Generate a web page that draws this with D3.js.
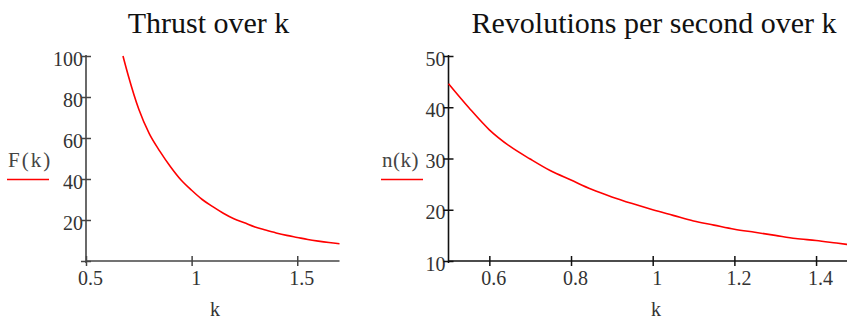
<!DOCTYPE html>
<html><head><meta charset="utf-8">
<script src="https://cdn.jsdelivr.net/npm/d3@7"></script>
<style>
body{margin:0;background:#fff;}
svg{display:block;}
text{font-family:"Liberation Serif","Times New Roman",serif;}
</style></head>
<body>
<svg id="c" width="847" height="320"></svg>
<script>
// ---- data ----
const thrustK = [0.675,0.70,0.75,0.80,0.85,0.90,0.95,1.00,1.05,1.10,1.15,1.20,1.25,1.30,1.35,1.40,1.45,1.50,1.55,1.60,1.65,1.70];
const thrustF = [100,90.5,74,62,53.5,46,39.5,34.5,30,26.5,23.3,20.6,18.6,16.6,15.1,13.7,12.5,11.5,10.5,9.7,9.0,8.4];
const revK = [0.50,0.55,0.60,0.65,0.70,0.75,0.80,0.85,0.90,0.95,1.00,1.05,1.10,1.15,1.20,1.25,1.30,1.35,1.40,1.45,1.50];
const revN = [44.6,39.9,35.6,32.4,29.9,27.6,25.8,24.0,22.5,21.2,20.0,18.9,17.8,17.0,16.2,15.6,15.0,14.4,14.0,13.5,13.0];
const leftXTicks = [0.5,1,1.5];
const leftYTicks = [0,20,40,60,80,100];
const rightXTicks = [0.6,0.8,1,1.2,1.4];
const rightYTicks = [10,20,30,40,50];
const titles = ["Thrust over k","Revolutions per second over k"];
const legendLabels = ["F(k)","n(k)"];
const xLabel = "k";

const svg = d3.select("#c");

function panel(cfg){
  const g = svg.append("g");
  const x = d3.scaleLinear().domain(cfg.xDomain).range(cfg.xRange);
  const y = d3.scaleLinear().domain(cfg.yDomain).range(cfg.yRange);
  const axisCol = cfg.axisCol;

  // title
  g.append("text").attr("x",cfg.titleX).attr("y",33).attr("text-anchor","middle")
    .attr("font-size",30).attr("fill","#111").text(cfg.title);

  // y axis
  const ya = g.append("g").attr("transform",`translate(${cfg.xRange[0]},0)`)
    .call(d3.axisLeft(y).tickValues(cfg.yTicks).tickSize(-5).tickPadding(3)
      .tickFormat(d=> cfg.hideYZero && d===0 ? "" : d3.format("")(d)));
  ya.select(".domain").attr("stroke",axisCol).attr("stroke-width",1.6)
    .attr("d",`M0,${y(cfg.yDomain[0])+2}V${cfg.yRange[1]-1}`);
  ya.selectAll(".tick line").attr("stroke",axisCol).attr("stroke-width",1.5);
  ya.selectAll(".tick").append("line").attr("x1",0).attr("x2",-5).attr("stroke",axisCol).attr("stroke-width",1.5);
  ya.selectAll(".tick text").attr("font-size",20).attr("fill","#333").attr("dy","0.45em")
    .attr("font-family","Liberation Serif, serif");

  // x axis
  const xa = g.append("g").attr("transform",`translate(0,${cfg.yRange[0]})`)
    .call(d3.axisBottom(x).tickValues(cfg.xTicks).tickSize(5).tickPadding(5).tickFormat(d3.format("")));
  xa.select(".domain").attr("stroke",axisCol).attr("stroke-width",1.6)
    .attr("d",`M${cfg.xRange[0]},0H${Math.min(cfg.xRange[1],847)}`);
  xa.selectAll(".tick line").attr("stroke",axisCol).attr("stroke-width",1.5);
  xa.selectAll(".tick").append("line").attr("y1",0).attr("y2",-5).attr("stroke",axisCol).attr("stroke-width",1.5);
  xa.selectAll(".tick text").attr("font-size",20).attr("fill","#333").attr("dx",4)
    .attr("font-family","Liberation Serif, serif");

  // axis title
  g.append("text").attr("x",cfg.kX).attr("y",316).attr("text-anchor","middle")
    .attr("font-size",20).attr("fill","#333").text(xLabel);

  // legend
  g.append("text").attr("x",cfg.legX).attr("y",167).attr("font-size",21)
    .attr("letter-spacing",cfg.legSpacing).attr("fill","#444").text(cfg.legend);
  g.append("line").attr("x1",cfg.legX-1).attr("x2",cfg.legX+41).attr("y1",179.5).attr("y2",179.5)
    .attr("stroke","#ff0000").attr("stroke-width",1.5);

  // curve
  const line = d3.line().x(d=>x(d[0])).y(d=>y(d[1])).curve(d3.curveMonotoneX);
  g.append("path").datum(d3.zip(cfg.xs,cfg.ys)).attr("d",line)
    .attr("fill","none").attr("stroke","#ff0000").attr("stroke-width",1.6);
}

panel({xDomain:[0.5,1.7],xRange:[86,339.5],yDomain:[0,100],yRange:[261,56],
  xTicks:leftXTicks,yTicks:leftYTicks,hideYZero:true,title:titles[0],titleX:208.5,
  kX:215,legX:8,legend:legendLabels[0],legSpacing:2,axisCol:"#444",xs:thrustK,ys:thrustF});
panel({xDomain:[0.5,1.5],xRange:[448.5,856.9],yDomain:[10,50],yRange:[261,56],
  xTicks:rightXTicks,yTicks:rightYTicks,hideYZero:false,title:titles[1],titleX:654,
  kX:656,legX:382,legend:legendLabels[1],legSpacing:0.5,axisCol:"#111",xs:revK,ys:revN});
</script>
</body></html>
